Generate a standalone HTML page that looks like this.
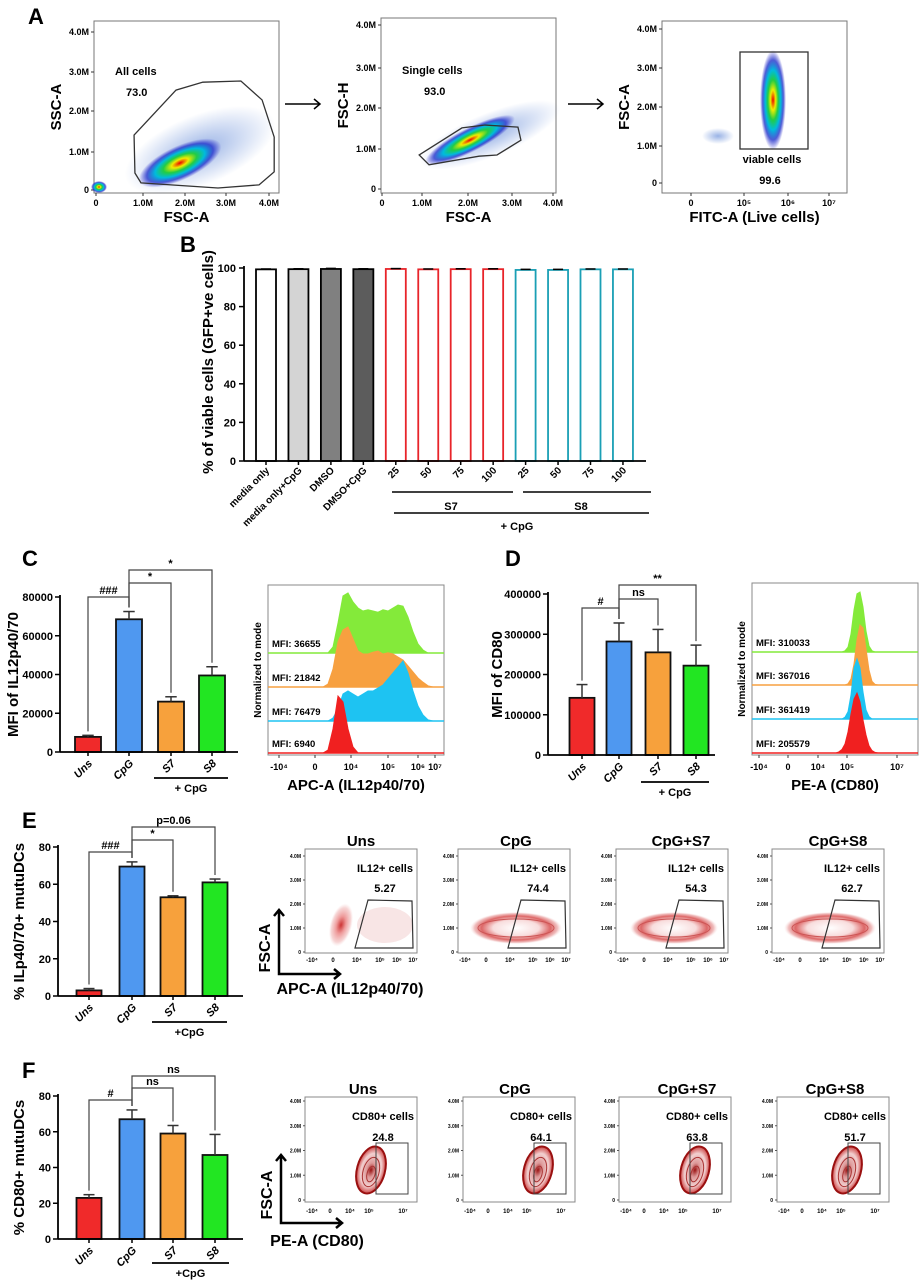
<!DOCTYPE html>
<html><head><meta charset="utf-8"><style>
html,body{margin:0;padding:0;background:#fff;}
svg{display:block;font-family:"Liberation Sans",Arial,sans-serif;font-weight:bold;}
</style></head><body>
<svg id="fig" width="920" height="1282" viewBox="0 0 920 1282" xmlns="http://www.w3.org/2000/svg">
<defs>
<radialGradient id="jet"><stop offset="0" stop-color="#e00"/><stop offset="0.2" stop-color="#ee0"/><stop offset="0.4" stop-color="#2c4"/><stop offset="0.6" stop-color="#0bd"/><stop offset="0.8" stop-color="#23c" stop-opacity="0.8"/><stop offset="1" stop-color="#33c" stop-opacity="0"/></radialGradient>
<radialGradient id="sparse"><stop offset="0" stop-color="#36c" stop-opacity="0.5"/><stop offset="1" stop-color="#36c" stop-opacity="0"/></radialGradient>
<radialGradient id="pink"><stop offset="0" stop-color="#c33"/><stop offset="0.4" stop-color="#e99"/><stop offset="0.8" stop-color="#f4caca" stop-opacity="0.8"/><stop offset="1" stop-color="#fadada" stop-opacity="0"/></radialGradient>
<radialGradient id="pinkring"><stop offset="0" stop-color="#fff"/><stop offset="0.5" stop-color="#f8dddd"/><stop offset="0.75" stop-color="#d66"/><stop offset="0.9" stop-color="#e9a0a0" stop-opacity="0.7"/><stop offset="1" stop-color="#fadada" stop-opacity="0"/></radialGradient>
<radialGradient id="cd80"><stop offset="0" stop-color="#911"/><stop offset="0.3" stop-color="#d99"/><stop offset="0.7" stop-color="#f2d0d0"/><stop offset="1" stop-color="#c44"/></radialGradient>
</defs>
</svg>
<script>
// ---------- data ----------
const bCategories = ['media only','media only+CpG','DMSO','DMSO+CpG','25','50','75','100','25','50','75','100'];
const bValues = [99.3,99.4,99.5,99.4,99.5,99.3,99.4,99.4,99.0,99.0,99.3,99.3];
const bErrors = [0.2,0.2,0.3,0.2,0.2,0.2,0.2,0.2,0.3,0.3,0.2,0.2];
const bTicks = [0,20,40,60,80,100];

const groups = ['Uns','CpG','S7','S8'];
const cValues = [7800,68500,26000,39500];
const cErrors = [800,4000,2500,4500];
const cTicks = [0,20000,40000,60000,80000];
const dValues = [142000,282000,255000,222000];
const dErrors = [33000,46000,57000,51000];
const dTicks = [0,100000,200000,300000,400000];
const eValues = [3,69.5,53,61];
const eErrors = [1,2.5,0.8,1.8];
const eTicks = [0,20,40,60,80];
const fValues = [23,67,59,47];
const fErrors = [1.8,5.2,4.5,11.5];
const fTicks = [0,20,40,60,80];

const cMFI = ['MFI: 36655','MFI: 21842','MFI: 76479','MFI: 6940'];
const dMFI = ['MFI: 310033','MFI: 367016','MFI: 361419','MFI: 205579'];
const cHistGreen = [0,0,0,0.1,0.5,0.95,1.0,0.85,0.75,0.7,0.72,0.7,0.68,0.72,0.7,0.75,0.8,0.78,0.6,0.35,0.15,0.05,0,0];
const cHistOrange = [0,0,0.05,0.3,0.75,0.95,1.0,0.8,0.6,0.55,0.55,0.58,0.6,0.55,0.57,0.55,0.5,0.45,0.35,0.25,0.15,0.08,0.02,0];
const cHistBlue = [0,0,0,0.05,0.2,0.45,0.5,0.45,0.4,0.45,0.5,0.5,0.55,0.6,0.7,0.8,0.9,1.0,0.8,0.5,0.25,0.1,0.02,0];
const cHistRed = [0,0,0.05,0.4,0.95,0.85,0.4,0.1,0,0,0,0,0,0,0,0,0,0,0,0,0,0,0,0];
const dHistGreen = [0,0,0,0,0,0.02,0.08,0.3,0.7,0.97,1,0.75,0.35,0.1,0.02,0,0,0,0];
const dHistOrange = [0,0,0,0,0,0,0.02,0.1,0.35,0.75,1,0.95,0.6,0.25,0.06,0.01,0,0,0];
const dHistBlue = [0,0,0,0,0,0.03,0.12,0.4,0.85,1,0.85,0.45,0.15,0.04,0,0,0,0,0];
const dHistRed = [0,0,0,0.02,0.06,0.15,0.35,0.65,0.9,1,0.85,0.55,0.3,0.12,0.04,0.01,0,0,0];

const eFlowTitles = ['Uns','CpG','CpG+S7','CpG+S8'];
const eFlowPct = ['5.27','74.4','54.3','62.7'];
const fFlowTitles = ['Uns','CpG','CpG+S7','CpG+S8'];
const fFlowPct = ['24.8','64.1','63.8','51.7'];

const aTicks = ['0','1.0M','2.0M','3.0M','4.0M'];
const gate1 = [[0.88,1.39],[1.85,2.53],[2.47,2.73],[3.35,2.76],[3.84,2.28],[4.12,1.34],[4.12,0.46],[3.77,0.13],[2.82,0.05],[1.04,0.18],[0.9,0.43]];
const gate2 = [[0.87,0.83],[1.87,1.49],[2.41,1.56],[3.18,1.51],[3.25,1.19],[2.69,0.83],[2.27,0.8],[1.1,0.59]];

// ---------- helpers ----------
const NS='http://www.w3.org/2000/svg';
const svg=document.getElementById('fig');
function el(tag,attrs,parent){const e=document.createElementNS(NS,tag);for(const k in attrs)e.setAttribute(k,attrs[k]);(parent||svg).appendChild(e);return e;}
function txt(x,y,s,attrs,parent){const t=el('text',Object.assign({x:x,y:y},attrs||{}),parent);t.textContent=s;return t;}
function grp(name){const g=el('g',{});return g;}

// panel letters
[['A',28,24],['B',180,252],['C',22,566],['D',505,566],['E',22,828],['F',22,1078]].forEach(p=>{
  const t=txt(p[1],p[2],p[0],{'font-size':22});
  
  
});

// ---------- Panel A ----------
function flowA(name,box,yTickPos,xTickPos,xLabels,xTitle,yTitle){
  const g=grp(name);
  const r=el('rect',{x:box[0],y:box[1],width:box[2]-box[0],height:box[3]-box[1],fill:'none',stroke:'#777','stroke-width':1},g);
  
  yTickPos.forEach((y,i)=>{el('line',{x1:box[0]-3,x2:box[0],y1:y,y2:y,stroke:'#333'},g);txt(box[0]-5,y+3,aTicks[i],{'font-size':9,'text-anchor':'end'},g);});
  xTickPos.forEach((x,i)=>{el('line',{x1:x,x2:x,y1:box[3],y2:box[3]+3,stroke:'#333'},g);txt(x,box[3]+13,xLabels[i],{'font-size':9,'text-anchor':'middle'},g);});
  const xt=txt((box[0]+box[2])/2,222,xTitle,{'font-size':15,'text-anchor':'middle'},g);
  
  const yt=txt(0,0,yTitle,{'font-size':15,'text-anchor':'middle',transform:`translate(${box[0]-33},${(box[1]+box[3])/2}) rotate(-90)`},g);
  
  return g;
}
// plot 1
const sx1=v=>96+v*43.25, sy1=v=>190-v*39.5;
let g1=flowA('scatter-all-cells',[94,21,279,193],[190,152,111,72,32],[96,143,185,226,269],aTicks,'FSC-A','SSC-A');
el('ellipse',{cx:200,cy:150,rx:80,ry:35,fill:'url(#sparse)',transform:'rotate(-22 200 150)'},g1);
el('ellipse',{cx:180,cy:163,rx:45,ry:17,fill:'url(#jet)',transform:'rotate(-25 180 163)'},g1);
el('ellipse',{cx:99,cy:187,rx:8,ry:6,fill:'url(#jet)'},g1);
const p1=el('polygon',{points:gate1.map(p=>sx1(p[0])+','+sy1(p[1])).join(' '),fill:'none',stroke:'#333','stroke-width':1.3},g1);

txt(115,75,'All cells',{'font-size':11},g1);txt(126,96,'73.0',{'font-size':11},g1);
const ar1=el('path',{d:'M285 104 H320 M314 99 L320 104 L314 109',fill:'none',stroke:'#000','stroke-width':1.5});

// plot 2
const sx2=v=>382+v*42.75, sy2=v=>189-v*41;
let g2=flowA('scatter-single-cells',[381,18,556,193],[189,149,108,68,25],[382,422,468,512,553],aTicks,'FSC-A','FSC-H');
el('ellipse',{cx:490,cy:135,rx:75,ry:22,fill:'url(#sparse)',transform:'rotate(-22 490 135)'},g2);
el('ellipse',{cx:470,cy:140,rx:50,ry:12,fill:'url(#jet)',transform:'rotate(-27 470 140)'},g2);
const p2=el('polygon',{points:gate2.map(p=>sx2(p[0])+','+sy2(p[1])).join(' '),fill:'none',stroke:'#333','stroke-width':1.3},g2);

txt(402,74,'Single cells',{'font-size':11},g2);txt(424,95,'93.0',{'font-size':11},g2);
const ar2=el('path',{d:'M568 104 H603 M597 99 L603 104 L597 109',fill:'none',stroke:'#000','stroke-width':1.5});

// plot 3
let g3=flowA('scatter-viable-cells',[662,21,847,193],[183,146,107,68,29],[691,744,788,829],['0','10⁵','10⁶','10⁷'],'FITC-A (Live cells)','FSC-A');
el('ellipse',{cx:773,cy:100,rx:13,ry:50,fill:'url(#jet)'},g3);
el('ellipse',{cx:718,cy:136,rx:16,ry:8,fill:'url(#sparse)'},g3);
const r3=el('rect',{x:740,y:52,width:68,height:97,fill:'none',stroke:'#333','stroke-width':1.3},g3);

txt(772,163,'viable cells',{'font-size':11,'text-anchor':'middle'},g3);txt(770,184,'99.6',{'font-size':11,'text-anchor':'middle'},g3);

// ---------- Panel B ----------
const gB=grp('bar-chart-viability');
const byB=v=>461-v*(461-268)/100, bxB=i=>266+i*32.45;
const bFill=['#fff','#d4d4d4','#808080','#5c5c5c','#fff','#fff','#fff','#fff','#fff','#fff','#fff','#fff'];
const bStroke=['#000','#000','#000','#000','#e8242a','#e8242a','#e8242a','#e8242a','#1a9fb5','#1a9fb5','#1a9fb5','#1a9fb5'];
bValues.forEach((v,i)=>{
  const b=el('rect',{x:bxB(i)-10,y:byB(v),width:20,height:byB(0)-byB(v),fill:bFill[i],stroke:bStroke[i],'stroke-width':1.8},gB);
  
  
  el('line',{x1:bxB(i)-5,x2:bxB(i)+5,y1:byB(v+bErrors[i]),y2:byB(v+bErrors[i]),stroke:'#000','stroke-width':1.5},gB);
  el('line',{x1:bxB(i),x2:bxB(i),y1:byB(v),y2:byB(v+bErrors[i]),stroke:'#000','stroke-width':1.5},gB);
  el('line',{x1:bxB(i),x2:bxB(i),y1:461,y2:465,stroke:'#000','stroke-width':1.5},gB);
  txt(0,0,bCategories[i],{'font-size':10,'text-anchor':'end',transform:`translate(${bxB(i)+4},${471}) rotate(-45)`},gB);
});
el('line',{x1:244,x2:244,y1:266,y2:461,stroke:'#000','stroke-width':1.8},gB);
el('line',{x1:244,x2:646,y1:461,y2:461,stroke:'#000','stroke-width':1.8},gB);
bTicks.forEach(t=>{el('line',{x1:239,x2:244,y1:byB(t),y2:byB(t),stroke:'#000','stroke-width':1.5},gB);txt(236,byB(t)+4,String(t),{'font-size':11,'text-anchor':'end'},gB);});
txt(0,0,'% of viable cells (GFP+ve cells)',{'font-size':15,'text-anchor':'middle',transform:'translate(213,362) rotate(-90)'},gB);
el('line',{x1:392,x2:513,y1:492,y2:492,stroke:'#000','stroke-width':1.5},gB);
el('line',{x1:523,x2:651,y1:492,y2:492,stroke:'#000','stroke-width':1.5},gB);
txt(451,510,'S7',{'font-size':11,'text-anchor':'middle'},gB);
txt(581,510,'S8',{'font-size':11,'text-anchor':'middle'},gB);
el('line',{x1:394,x2:649,y1:513,y2:513,stroke:'#000','stroke-width':1.5},gB);
txt(517,530,'+ CpG',{'font-size':11,'text-anchor':'middle'},gB);

// ---------- grouped bar charts C,D,E,F ----------
const barColors=['#f02a2a','#4f98f0','#f7a13c','#22e622'];
function barChart(name,axisX,axisEnd,y0,yTop,maxV,centers,bw,vals,errs,ticks,tickFmt,yTitle,yTitleX,sig,cpgLine){
  const g=grp(name);
  const sy=v=>y0-v*(y0-yTop)/maxV;
  vals.forEach((v,i)=>{
    const b=el('rect',{x:centers[i]-bw/2,y:sy(v),width:bw,height:y0-sy(v),fill:barColors[i],stroke:'#111','stroke-width':1.8},g);
    
    
    const et=sy(v+errs[i]);
    el('line',{x1:centers[i],x2:centers[i],y1:sy(v),y2:et,stroke:'#333','stroke-width':1.5},g);
    el('line',{x1:centers[i]-bw*0.22,x2:centers[i]+bw*0.22,y1:et,y2:et,stroke:'#333','stroke-width':1.5},g);
    el('line',{x1:centers[i],x2:centers[i],y1:y0,y2:y0+4,stroke:'#000','stroke-width':1.5},g);
    txt(0,0,groups[i],{'font-size':11,'font-style':'italic','text-anchor':'end',transform:`translate(${centers[i]+5},${y0+12}) rotate(-45)`},g);
  });
  el('line',{x1:axisX,x2:axisX,y1:yTop-2,y2:y0,stroke:'#000','stroke-width':1.8},g);
  el('line',{x1:axisX,x2:axisEnd,y1:y0,y2:y0,stroke:'#000','stroke-width':1.8},g);
  ticks.forEach(t=>{el('line',{x1:axisX-5,x2:axisX,y1:sy(t),y2:sy(t),stroke:'#000','stroke-width':1.5},g);txt(axisX-7,sy(t)+4,tickFmt(t),{'font-size':11,'text-anchor':'end'},g);});
  const yc=(y0+yTop)/2;
  const yt=txt(0,0,yTitle,{'font-size':15,'text-anchor':'middle',transform:`translate(${yTitleX},${yc}) rotate(-90)`},g);
  
  sig.forEach(s=>{
    const a=centers[s[0]],b=centers[s[1]],lev=s[2];
    const ea=sy(vals[s[0]]+errs[s[0]])-4, eb=sy(vals[s[1]]+errs[s[1]])-4;
    el('path',{d:`M${a} ${Math.max(ea,lev)} V${lev} H${b} V${Math.max(eb,lev)}`,fill:'none',stroke:'#444','stroke-width':1.2},g);
    txt((a+b)/2,lev-3,s[3],{'font-size':11,'text-anchor':'middle'},g);
  });
  el('line',{x1:cpgLine[0],x2:cpgLine[1],y1:cpgLine[2],y2:cpgLine[2],stroke:'#000','stroke-width':1.8},g);
  txt((cpgLine[0]+cpgLine[1])/2,cpgLine[2]+14,cpgLine[3],{'font-size':11,'text-anchor':'middle'},g);
}
const fmt=t=>String(t);
barChart('bar-chart-mfi-il12',60,238,752,597,80000,[88,129,171,212],26,cValues,cErrors,cTicks,fmt,'MFI of IL12p40/70',18,
  [[0,1,597,'###'],[1,2,583,'*'],[1,3,570,'*']],[154,228,778,'+ CpG']);
barChart('bar-chart-mfi-cd80',548,715,755,594,400000,[582,619,658,696],25,dValues,dErrors,dTicks,fmt,'MFI of CD80',502,
  [[0,1,608,'#'],[1,2,599,'ns'],[1,3,585,'**']],[641,709,782,'+ CpG']);
barChart('bar-chart-il12-pct',58,243,996,847,80,[89,132,173,215],25,eValues,eErrors,eTicks,fmt,'% ILp40/70+ mutuDCs',24,
  [[0,1,852,'###'],[1,2,840,'*'],[1,3,827,'p=0.06']],[152,227,1022,'+CpG']);
barChart('bar-chart-cd80-pct',58,243,1239,1096,80,[89,132,173,215],25,fValues,fErrors,fTicks,fmt,'% CD80+ mutuDCs',24,
  [[0,1,1100,'#'],[1,2,1088,'ns'],[1,3,1076,'ns']],[152,229,1263,'+CpG']);

// ---------- histograms ----------
function histPanel(name,box,series,colors,baselines,binX0,binStep,mfi,ticks,title){
  const g=grp(name);
  const fr=el('rect',{x:box[0],y:box[1],width:box[2]-box[0],height:box[3]-box[1],fill:'#fff',stroke:'#888','stroke-width':1},g);
  
  series.forEach((s,k)=>{
    const base=baselines[k];
    let d=`M${box[0]} ${base} L${binX0} ${base}`;
    s.forEach((v,i)=>{d+=` L${binX0+i*binStep} ${base-v*60}`;});
    d+=` L${box[2]} ${base} Z`;
    const p=el('path',{d:d,fill:colors[k],stroke:colors[k],'stroke-width':1},g);
    
    el('line',{x1:box[0],x2:box[2],y1:base,y2:base,stroke:colors[k],'stroke-width':1.5},g);
    txt(box[0]+4,base-6,mfi[k],{'font-size':9.5},g);
  });
  ticks.forEach(t=>{el('line',{x1:t[0],x2:t[0],y1:box[3],y2:box[3]+3,stroke:'#333'},g);txt(t[0],box[3]+15,t[1],{'font-size':9,'text-anchor':'middle'},g);});
  txt((box[0]+box[2])/2,790,title,{'font-size':15,'text-anchor':'middle'},g);
  txt(0,0,'Normalized to mode',{'font-size':10,'text-anchor':'middle',transform:`translate(${box[0]-7},${(box[1]+box[3])/2}) rotate(-90)`},g);
}
histPanel('histogram-il12',[268,585,444,755],[cHistGreen,cHistOrange,cHistBlue,cHistRed],['#84ea3a','#f7a040','#1ec3f2','#f02020'],[653,687,721,753],318,5,cMFI,
  [[279,'-10⁴'],[315,'0'],[351,'10⁴'],[388,'10⁵'],[418,'10⁶'],[435,'10⁷']],'APC-A (IL12p40/70)');
histPanel('histogram-cd80',[752,583,918,755],[dHistGreen,dHistOrange,dHistBlue,dHistRed],['#84ea3a','#f7a040','#1ec3f2','#f02020'],[652,685,719,753],830,3,dMFI,
  [[759,'-10⁴'],[788,'0'],[818,'10⁴'],[847,'10⁵'],[897,'10⁷']],'PE-A (CD80)');

// ---------- flow contour plots E ----------
const fLabs=['-10⁴','0','10⁴','10⁵','10⁶','10⁷'];
function flowSmall(name,L,top,bottom,y0,step,xoffs,xlab,xlabY){
  const g=grp(name);
  const fr=el('rect',{x:L,y:top,width:112,height:bottom-top,fill:'none',stroke:'#888','stroke-width':1},g);
  
  ['0','1.0M','2.0M','3.0M','4.0M'].forEach((s,i)=>{el('line',{x1:L-2,x2:L,y1:y0-i*step,y2:y0-i*step,stroke:'#555'},g);txt(L-4,y0-i*step+2,s,{'font-size':5,'text-anchor':'end'},g);});
  xoffs.forEach((o,i)=>{txt(L+o,xlabY,xlab[i],{'font-size':6,'text-anchor':'middle'},g);});
  return g;
}
const eLefts=[305,458,616,772], eTitleX=[361,516,681,838];
eLefts.forEach((L,k)=>{
  const g=flowSmall('flow-il12-'+k,L,849,953,952,24,[7,28,52,75,92,108],fLabs,962);
  const t=txt(eTitleX[k],846,eFlowTitles[k],{'font-size':15,'text-anchor':'middle'},g);
  
  if(k===0){
    el('ellipse',{cx:L+80,cy:925,rx:28,ry:18,fill:'#f3d4d4',opacity:0.6},g);
    el('ellipse',{cx:L+36,cy:925,rx:11,ry:22,fill:'url(#pink)',transform:`rotate(15 ${L+36} 925)`},g);
  } else {
    const rx=[0,46,44,46][k];
    el('ellipse',{cx:L+58,cy:928,rx:rx,ry:16,fill:'url(#pinkring)'},g);
    el('ellipse',{cx:L+58,cy:928,rx:rx-8,ry:9,fill:'none',stroke:'#c55','stroke-width':1},g);
  }
  const gate=el('polygon',{points:`${L+50},948 ${L+63},900 ${L+107},901 ${L+108},948`,fill:'none',stroke:'#333','stroke-width':1.2},g);
  
  txt(L+80,872,'IL12+ cells',{'font-size':11,'text-anchor':'middle'},g);
  txt(L+80,892,eFlowPct[k],{'font-size':11,'text-anchor':'middle'},g);
});
const axE=grp('axis-arrows-il12');
el('path',{d:'M279 910 V974 H340 M274 916 L279 910 L284 916 M334 969 L340 974 L334 979',fill:'none',stroke:'#000','stroke-width':2.5},axE);
txt(0,0,'FSC-A',{'font-size':16,'text-anchor':'middle',transform:'translate(270,948) rotate(-90)'},axE);
txt(350,994,'APC-A (IL12p40/70)',{'font-size':16,'text-anchor':'middle'},axE);

// ---------- flow contour plots F ----------
const fLefts=[305,463,619,777], fTitleX=[363,515,687,835], fBlob=[66,75,76,70];
fLefts.forEach((L,k)=>{
  const g=flowSmall('flow-cd80-'+k,L,1097,1202,1200,24.75,[7,25,45,64,98],['-10⁴','0','10⁴','10⁵','10⁷'],1213);
  const t=txt(fTitleX[k],1094,fFlowTitles[k],{'font-size':15,'text-anchor':'middle'},g);
  
  const cx=L+fBlob[k];
  el('ellipse',{cx:cx,cy:1170,rx:14,ry:24,fill:'url(#cd80)',stroke:'#9a1010','stroke-width':2,transform:`rotate(15 ${cx} 1170)`},g);
  el('ellipse',{cx:cx,cy:1172,rx:8,ry:15,fill:'none',stroke:'#a33','stroke-width':1,transform:`rotate(15 ${cx} 1172)`},g);
  el('ellipse',{cx:cx,cy:1174,rx:4,ry:8,fill:'none',stroke:'#a33','stroke-width':1,transform:`rotate(15 ${cx} 1174)`},g);
  const gate=el('rect',{x:L+71,y:1143,width:32,height:51,fill:'none',stroke:'#444','stroke-width':1},g);
  
  txt(L+78,1120,'CD80+ cells',{'font-size':11,'text-anchor':'middle'},g);
  txt(L+78,1141,fFlowPct[k],{'font-size':11,'text-anchor':'middle'},g);
});
const axF=grp('axis-arrows-cd80');
el('path',{d:'M281 1155 V1223 H342 M276 1161 L281 1155 L286 1161 M336 1218 L342 1223 L336 1228',fill:'none',stroke:'#000','stroke-width':2.5},axF);
txt(0,0,'FSC-A',{'font-size':16,'text-anchor':'middle',transform:'translate(272,1195) rotate(-90)'},axF);
txt(317,1246,'PE-A (CD80)',{'font-size':16,'text-anchor':'middle'},axF);
</script>
</body></html>
